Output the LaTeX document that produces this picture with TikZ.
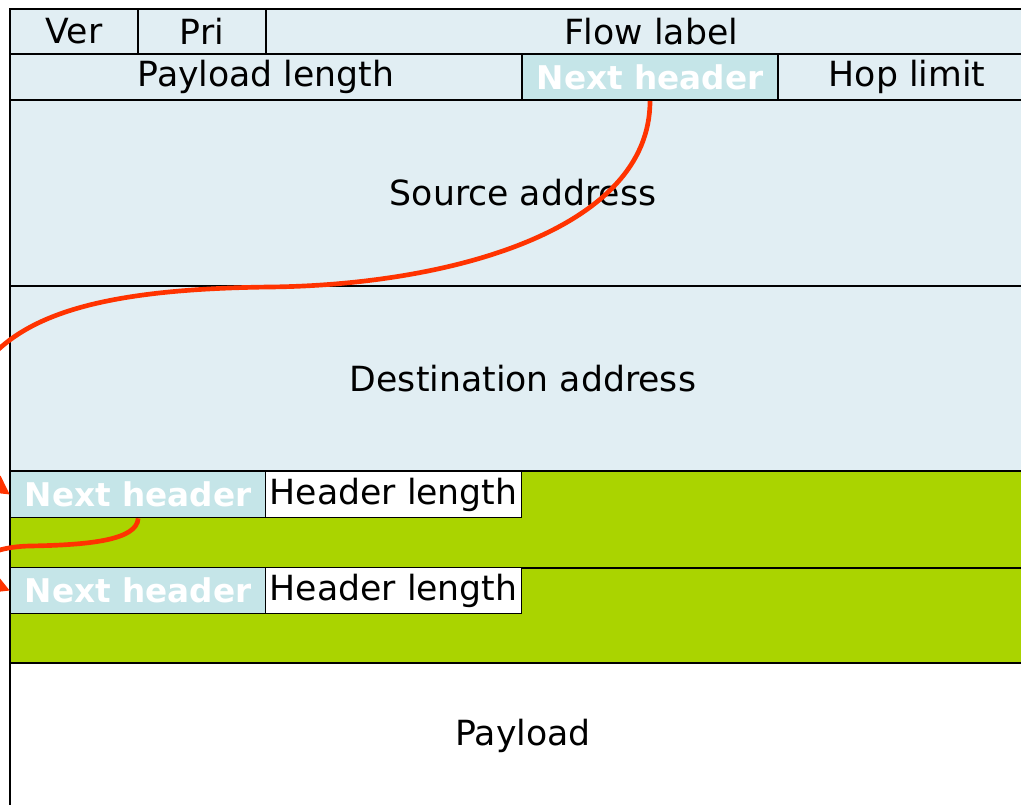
\documentclass[tikz,border=0pt]{standalone}
\usepackage{fontspec}
\setmainfont{DejaVu Sans}
\usetikzlibrary{arrows.meta}
\definecolor{hdrblue}{HTML}{E1EEF3}
\definecolor{nhblue}{HTML}{C5E5E8}
\definecolor{extgreen}{HTML}{AAD400}
\definecolor{arrred}{HTML}{FF3300}
\begin{document}
\begin{tikzpicture}[x=0.75pt,y=-0.75pt,
  cell/.style={draw=black, line width=1.5pt, anchor=north west, inner sep=0pt,
    font=\fontsize{26}{30}\selectfont, fill=hdrblue},
  nhcell/.style={cell, fill=nhblue, text=white, font=\fontsize{24.5}{28}\selectfont\bfseries, line width=1pt},
  hlcell/.style={cell, fill=white, line width=1pt},
  extcell/.style={cell, fill=extgreen},
  paycell/.style={cell, fill=white},
  nextarrow/.style={draw=arrred, line width=3.5pt, -{Triangle[length=14pt,width=14pt]}}]
\clip (0,0) rectangle (1021,805);
\fill[white] (0,0) rectangle (1021,805);
% IPv6 header
\node[cell, minimum width=96pt, minimum height=33.75pt] (ver) at (9,8) {Ver};
\node[cell, minimum width=96pt, minimum height=33.75pt] (pri) at (137,8) {Pri};
\node[cell, minimum width=577.5pt, minimum height=33.75pt] (flow) at (265,8) {Flow label};
\node[cell, minimum width=384pt, minimum height=34.5pt] (plen) at (9,53) {Payload length};
\node[nhcell, minimum width=192pt, minimum height=34.5pt, line width=1.5pt] (nh) at (521,53) {Next header};
\node[cell, minimum width=193.5pt, minimum height=34.5pt] (hop) at (777,53) {Hop limit};
\node[cell, minimum width=769.5pt, minimum height=139.5pt] (src) at (9,99) {Source address};
\node[cell, minimum width=769.5pt, minimum height=138.75pt] (dst) at (9,285) {Destination address};
% extension headers
\node[extcell, minimum width=769.5pt, minimum height=72.75pt] (ext1) at (9,470) {};
\node[extcell, minimum width=769.5pt, minimum height=71.25pt] (ext2) at (9,567) {};
\node[paycell, minimum width=769.5pt, minimum height=109.5pt] (pay) at (9,662) {Payload};
\node[nhcell, minimum width=191.25pt, minimum height=34.5pt] (nh1) at (10,471) {Next header};
\node[hlcell, minimum width=192pt, minimum height=34.5pt] (hl1) at (265,471) {Header length};
\node[nhcell, minimum width=191.25pt, minimum height=34.5pt] (nh2) at (10,567) {Next header};
\node[hlcell, minimum width=192pt, minimum height=34.5pt] (hl2) at (265,567) {Header length};
% next-header chain
\coordinate (bend1) at (270,287);
\coordinate (bend2) at (30,546);
\draw[nextarrow] (nh.south) .. controls (650,230) and (450,285) .. (bend1)
  .. controls (100,289) and (20,315) .. (-20,370)
  .. controls (-50,410) and (-25,470) .. (nh1.west);
\draw[nextarrow] (nh1.south) .. controls (137,540) and (90,545) .. (bend2)
  .. controls (-20,547) and (-40,570) .. (nh2.west);
\end{tikzpicture}
\end{document}
